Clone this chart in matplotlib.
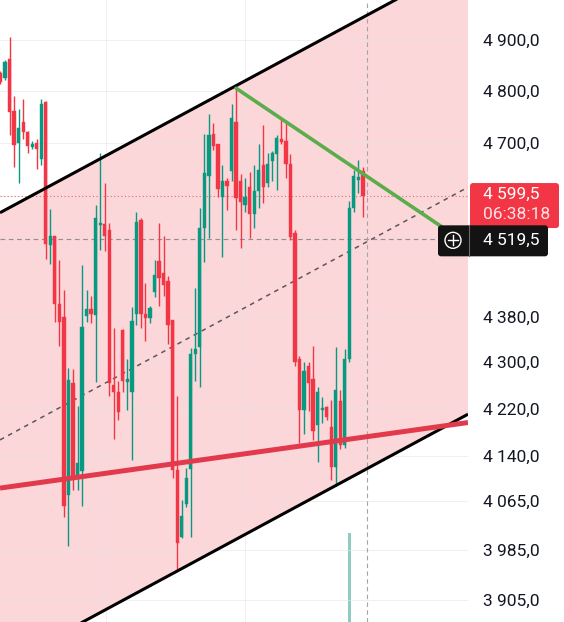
import numpy as np
import matplotlib
matplotlib.use("Agg")
import matplotlib.pyplot as plt
from matplotlib.patches import FancyBboxPatch, Circle
from matplotlib.lines import Line2D
from matplotlib.transforms import IdentityTransform
from matplotlib.ticker import NullLocator

plt.rcParams['font.family'] = ['Roboto', 'DejaVu Sans']

# ---------------- data ----------------
opens = [4835, 4825, 4863, 4761, 4700, 4740, 4721, 4692, 4700, 4669,
         4778, 4509, 4526, 4403, 4380, 4075, 4264, 4103, 4115, 4381,
         4394, 4383, 4546, 4548, 4537, 4261, 4249, 4356, 4266, 4249,
         4385, 4555, 4385, 4378, 4424, 4480, 4459, 4444, 4374, 4116,
         4006, 4060, 4118, 4314, 4326, 4540, 4637, 4717, 4698, 4598,
         4628, 4647, 4740, 4628, 4583, 4617, 4566, 4609, 4658, 4624,
         4665, 4678, 4707, 4703, 4660, 4531, 4306, 4217, 4293, 4271,
         4192, 4217, 4222, 4188, 4121, 4233, 4158, 4306, 4577, 4630,
         4647]
highs = [4839, 4860, 4906, 4790, 4765, 4785, 4723, 4703, 4707, 4785,
         4780, 4575, 4526, 4482, 4428, 4290, 4288, 4224, 4473, 4428,
         4417, 4583, 4680, 4624, 4549, 4360, 4267, 4358, 4306, 4397,
         4570, 4559, 4440, 4399, 4482, 4549, 4526, 4453, 4374, 4242,
         4066, 4120, 4325, 4432, 4577, 4717, 4755, 4738, 4698, 4658,
         4634, 4774, 4805, 4641, 4634, 4645, 4658, 4698, 4734, 4680,
         4684, 4714, 4748, 4742, 4678, 4537, 4311, 4300, 4300, 4328,
         4256, 4240, 4224, 4235, 4326, 4251, 4323, 4590, 4648, 4667,
         4654]
lows = [4813, 4821, 4714, 4654, 4624, 4707, 4680, 4688, 4650, 4658,
        4484, 4475, 4371, 4328, 4039, 3991, 4083, 4083, 4056, 4371,
        4369, 4266, 4500, 4498, 4242, 4168, 4200, 4249, 4218, 4133,
        4365, 4360, 4337, 4369, 4415, 4399, 4417, 4332, 4103, 3953,
        4004, 4054, 4006, 4267, 4257, 4478, 4522, 4686, 4598, 4488,
        4573, 4628, 4537, 4503, 4570, 4522, 4540, 4577, 4587, 4617,
        4628, 4611, 4698, 4634, 4518, 4293, 4162, 4177, 4215, 4167,
        4130, 4195, 4200, 4100, 4090, 4152, 4153, 4300, 4570, 4605,
        4561]
closes = [4817, 4856, 4759, 4696, 4728, 4721, 4694, 4698, 4688, 4774,
          4511, 4526, 4403, 4371, 4056, 4269, 4103, 4128, 4362, 4394,
          4385, 4559, 4549, 4526, 4264, 4249, 4214, 4267, 4271, 4372,
          4551, 4385, 4378, 4396, 4455, 4450, 4436, 4365, 4116, 3996,
          4040, 4103, 4314, 4323, 4540, 4643, 4714, 4694, 4613, 4628,
          4619, 4748, 4596, 4588, 4598, 4566, 4609, 4648, 4617, 4660,
          4680, 4709, 4701, 4660, 4524, 4300, 4217, 4285, 4264, 4182,
          4249, 4221, 4205, 4121, 4252, 4158, 4306, 4577, 4637, 4635,
          4599.5]

volume_index = [77]
volume_value = [14.3]

# drawn lines: (bar index, price) anchor pairs
upper_channel = [(0, 4569), (80, 4945)]
lower_channel = [(0, 3801), (80, 4114.5)]
middle_channel = [(0, 4167), (80, 4511)]
support_line = [(0, 4086), (80, 4171)]
resistance_line = [(52, 4805), (97.5, 4542)]

tick_values = [4900, 4800, 4700, 4600, 4500, 4380, 4300, 4220, 4140, 4065, 3985, 3905]
tick_labels = ["4 900,0", "4 800,0", "4 700,0", "", "", "4 380,0", "4 300,0",
               "4 220,0", "4 140,0", "4 065,0", "3 985,0", "3 905,0"]

last_price = 4599.5
last_price_label = "4 599,5"
countdown_label = "06:38:18"
cross_price = 4519.5
cross_price_label = "4 519,5"
cross_index = 81
time_grid = [23.3, 54.0]

# ---------------- style ----------------
GREEN = '#089981'
RED = '#f23645'
PINK = '#fcd7da'
W, H = 564, 622

fig = plt.figure(figsize=(W / 100, H / 100), dpi=100)
ax = fig.add_axes([0, 0, 468 / W, 1])
xmin, xmax = -0.11, 103.2

# volume pane (behind the price axes)
vax = fig.add_axes([0, 0, 468 / W, 1], zorder=0)
vax.set_ylim(0, 100)
vax.set_xlim(xmin, xmax)
vax.axis('off')
vax.bar(volume_index, volume_value, width=0.72, color='#8ecbc2')
ax.set_zorder(1)
ax.patch.set_visible(False)

ax.set_yscale('log')
ax.set_xlim(xmin, xmax)
ax.set_ylim(3870, 4980)
for s in ax.spines.values():
    s.set_visible(False)
ax.set_xticks([])
ax.yaxis.tick_right()
ax.set_yticks(tick_values)
ax.set_yticklabels(tick_labels)
ax.yaxis.set_minor_locator(NullLocator())
ax.tick_params(axis='y', length=0, pad=10.8, labelsize=12.5, labelcolor='#131722')


def line_vals(anchor, xs):
    (x0, p0), (x1, p1) = anchor
    l0, l1 = np.log(p0), np.log(p1)
    return np.exp(l0 + (l1 - l0) * (np.asarray(xs) - x0) / (x1 - x0))


xs = np.array([xmin, xmax])
ax.fill_between(xs, line_vals(lower_channel, xs), line_vals(upper_channel, xs),
                color=PINK, lw=0, zorder=0)

# grid
for v in tick_values:
    ax.axhline(v, color='#e9e2e4', lw=0.7, alpha=0.6, zorder=0.5)
for g in time_grid:
    ax.axvline(g, color='#e9e2e4', lw=0.7, alpha=0.6, zorder=0.5)

# middle dashed channel line
ax.plot(xs, line_vals(middle_channel, xs), color='#5d5557', lw=1.1,
        dashes=(3, 3), zorder=1)

# price line and crosshair
ax.axhline(last_price, color=RED, lw=0.8, dashes=(1, 2.2), alpha=0.75, zorder=1)
ax.plot([xmin, 97], [cross_price, cross_price], color='#958d92', lw=0.85,
        dashes=(4, 3), zorder=1)
ax.axvline(cross_index, color='#a8a2a6', lw=0.8, dashes=(4, 3), zorder=1)

# candles
idx = np.arange(len(opens))
o = np.array(opens, float)
c = np.array(closes, float)
hi = np.array(highs, float)
lo = np.array(lows, float)
cols = np.where(c >= o, GREEN, RED)
ax.vlines(idx, lo, hi, colors=cols, lw=1.0, zorder=3)
bottoms = np.minimum(o, c)
heights = np.maximum(np.abs(c - o), 1.5)
ax.bar(idx, heights, bottom=bottoms, width=0.72, color=cols, edgecolor=cols,
       linewidth=0.3, zorder=3.2)

# drawn lines on top
ax.plot(xs, line_vals(upper_channel, xs), color='black', lw=2.2, zorder=5,
        solid_capstyle='butt')
ax.plot(xs, line_vals(lower_channel, xs), color='black', lw=2.2, zorder=5,
        solid_capstyle='butt')
ax.plot(xs, line_vals(support_line, xs), color='#e23a4d', lw=3.6, zorder=5,
        solid_capstyle='butt')
rx = np.array([resistance_line[0][0], resistance_line[1][0]])
ax.plot(rx, line_vals(resistance_line, rx), color='#5aad4a', lw=2.6, zorder=5,
        solid_capstyle='round')

fig.canvas.draw()


def ypix(price):
    return ax.transData.transform((0, price))[1]


T = IdentityTransform()
yp = ypix(last_price)
red_box = FancyBboxPatch((470, yp - 32), 89, 45,
                         boxstyle='round,pad=0,rounding_size=3',
                         facecolor=RED, edgecolor='none', transform=T, zorder=10)
fig.patches.append(red_box)
fig.text(483, yp + 1.5, last_price_label, transform=T, color='white',
         fontsize=12.5, va='center', ha='left', zorder=11)
fig.text(483, yp - 18.5, countdown_label, transform=T, color='#fde3e6',
         fontsize=12.5, va='center', ha='left', zorder=11)

yc = ypix(cross_price)
blk_box = FancyBboxPatch((438, yc - 17), 110, 31,
                         boxstyle='round,pad=0,rounding_size=3',
                         facecolor='#131313', edgecolor='none', transform=T, zorder=12)
fig.patches.append(blk_box)
fig.lines.append(Line2D([469, 469], [yc - 17, yc + 14], color='#6b6b6b', lw=0.8,
                        transform=T, zorder=13))
fig.patches.append(Circle((453, yc - 1), 8, facecolor='none', edgecolor='white',
                          lw=1.0, transform=T, zorder=13))
fig.lines.append(Line2D([448, 458], [yc - 1, yc - 1], color='white', lw=1.0,
                        transform=T, zorder=14))
fig.lines.append(Line2D([453, 453], [yc - 6, yc + 4], color='white', lw=1.0,
                        transform=T, zorder=14))
fig.text(483, yc - 1, cross_price_label, transform=T, color='white',
         fontsize=12.5, va='center', ha='left', zorder=14)

fig.savefig('out.png', dpi=100, facecolor='white')
